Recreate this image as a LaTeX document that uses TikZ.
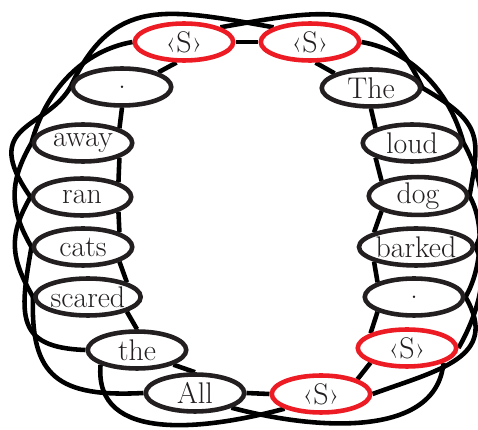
\documentclass[tikz,border=0pt]{standalone}
\usepackage{tikz}
\usetikzlibrary{shapes.geometric,backgrounds}

\definecolor{ink}{HTML}{231F20}
\definecolor{sred}{HTML}{ED1C24}

\tikzset{
  word/.style={ellipse, fill=white, line width=2.6pt, inner sep=0pt,
    minimum width=1.97cm, minimum height=0.74cm, text=ink,
    font=\fontsize{17}{20}\selectfont},
  link/.style={line width=2.6pt, black}
}

\begin{document}
\begin{tikzpicture}[x=0.02cm, y=0.02cm]
\useasboundingbox (0,0) rectangle (478,430);

\foreach \name/\x/\y/\txt/\col in {sL/184/388/‹S›/sred, sR/310/388/‹S›/sred,
    The/371/342/The/ink, loud/412/287/loud/ink, dog/418/234/dog/ink,
    barked/416/183/barked/ink, dotR/414/133/./ink, sBR/407/82/‹S›/sred,
    sB/321/36/‹S›/sred, All/195/37/All/ink, the/137/80/the/ink,
    scared/88/133/scared/ink, cats/83/183/cats/ink, ran/82/233/ran/ink,
    away/83/287/away/ink, dotL/122/343/./ink} {
    \node[word, draw=\col] (\name) at (\x,\y) {\txt};
}

\begin{pgfonlayer}{background}
% neighbours
\foreach \a/\b in {sL.east/sR.west, sR.-75/The.north west, The.south/loud.north west,
    loud.south west/dog.north west, dog.south west/barked.north west,
    barked.south west/dotR.north west, dotR.south west/sBR.north west,
    sBR.south west/sB.north east, sB.west/All.east, All.north/the.south east,
    the.north/scared.south east, scared.north east/cats.south east,
    cats.north east/ran.south east, ran.north east/away.south east,
    away.north east/dotL.south, dotL.north east/sL.250} {
    \draw[link] (\a) -- (\b);
}
% one word skipped: start/end, angle:length of both handles
\foreach \a/\b/\o/\i in {sL.north east/The.east/10:110/115:100,
    sR.east/loud.east/-10:50/105:55, The.east/dog.east/-30:70/80:60,
    loud.east/barked.east/-60:32/60:32, dog.east/dotR.east/-60:32/60:32,
    barked.east/sBR.east/-60:32/60:32, dotR.east/sB.east/-60:70/20:70,
    sBR.south east/All.south east/-95:75/-15:90,
    sB.south west/the.south west/-165:80/-95:80,
    All.west/scared.west/183:85/-92:80, the.west/cats.west/178:70/-100:70,
    scared.west/ran.west/120:45/-120:45, cats.west/away.west/120:45/-120:45,
    ran.west/dotL.west/125:90/240:50, away.west/sL.west/75:55/190:50,
    dotL.west/sR.north west/65:100/170:110} {
    \draw[link] (\a) .. controls +(\o) and +(\i) .. (\b);
}
\end{pgfonlayer}
\end{tikzpicture}
\end{document}
